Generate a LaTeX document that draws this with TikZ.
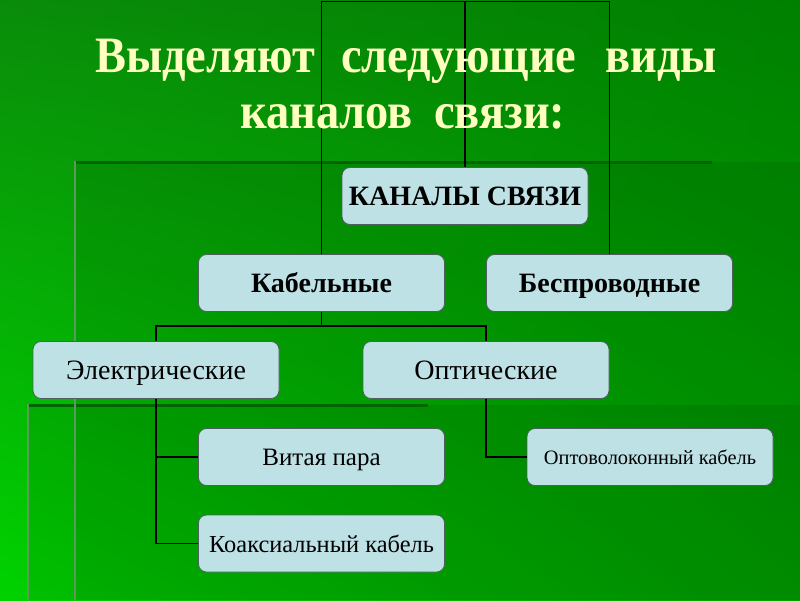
\documentclass[tikz,border=0pt]{standalone}
\usepackage{fontspec}
\setmainfont{Liberation Serif}
\usetikzlibrary{shadings}
\definecolor{titlec}{HTML}{FFFFC0}
\definecolor{boxfill}{HTML}{BEE1E6}
\definecolor{boxline}{HTML}{4F5F5F}
\definecolor{bgUL}{HTML}{0A8C0A}
\definecolor{bgUR}{HTML}{008000}
\definecolor{bgLL}{HTML}{00D200}
\definecolor{bgLR}{HTML}{00A400}
\definecolor{darkband}{HTML}{006400}
\definecolor{edgeline}{HTML}{5E9A5E}
\newcommand{\tw}[1]{\scalebox{0.91}[1]{#1}}
\tikzset{
  box/.style={draw=boxline, fill=boxfill, rounded corners=8pt, line width=0.8pt,
    minimum width=246pt, minimum height=57pt, inner sep=1pt, text=black,
    font=\fontsize{28}{30}\selectfont, text height=19pt, text depth=0pt},
  boldbox/.style={box, font=\fontsize{28}{30}\selectfont\bfseries},
  conn/.style={draw=black, line width=1.5pt},
  ttl/.style={text=titlec, font=\fontsize{51}{56}\selectfont\bfseries, inner sep=0pt, anchor=base west},
  panel/.style={fill=black, fill opacity=0.08, draw=none},
}
\begin{document}
\begin{tikzpicture}[x=1pt, y=-1pt]
\useasboundingbox (0,0) rectangle (800,600);
% background
\shade[upper left=bgUL, upper right=bgUR, lower left=bgLL, lower right=bgLR] (0,0) rectangle (800,600);
\fill[panel] (75,162) rectangle (800,600);
\fill[panel] (28,405) rectangle (800,600);
\draw[darkband, line width=3pt] (75,162) -- (712,162);
\draw[darkband, line width=3pt] (28,405) -- (428,405);
\draw[edgeline, line width=2pt] (75,161) -- (75,600);
\draw[edgeline, line width=2pt] (28,404) -- (28,600);
% boxes
\node[boldbox] (kan) at (465,196) {КАНАЛЫ СВЯЗИ};
\node[boldbox] (kab) at (321.5,283) {Кабельные};
\node[boldbox] (besp) at (609.5,283) {Беспроводные};
\node[box] (el) at (156,370) {Электрические};
\node[box] (opt) at (486,370) {Оптические};
\node[box, font=\fontsize{25}{27}\selectfont, text height=17pt] (vit) at (321.5,457) {Витая пара};
\node[box, font=\fontsize{24.4}{26}\selectfont, text height=17pt] (koax) at (321.5,543.5) {Коаксиальный кабель};
\node[box, font=\fontsize{20.4}{22}\selectfont, text height=14pt] (optv) at (650,457) {Оптоволоконный кабель};
% connectors
\coordinate (root) at (465,1.5);
\coordinate (bus) at (321.5,326);
\draw[conn] (root) -- (kan.north);
\draw[conn] (root) -| (kab.north);
\draw[conn] (root) -| (besp.north);
\draw[conn] (kab.south) -- (bus);
\draw[conn] (bus) -| (el.north);
\draw[conn] (bus) -| (opt.north);
\draw[conn] (el.south) |- (vit.west);
\draw[conn] (el.south) |- (koax.west);
\draw[conn] (opt.south) |- (optv.west);
% title
\node[ttl] (t1a) at (95,72) {\tw{Выделяют}};
\node[ttl] (t1b) at (341,72) {\tw{следующие}};
\node[ttl] (t1c) at (605,72) {\tw{виды}};
\node[ttl] (t2a) at (240,128) {\tw{каналов}};
\node[ttl] (t2b) at (434,128) {\tw{связи:}};
\end{tikzpicture}
\end{document}
